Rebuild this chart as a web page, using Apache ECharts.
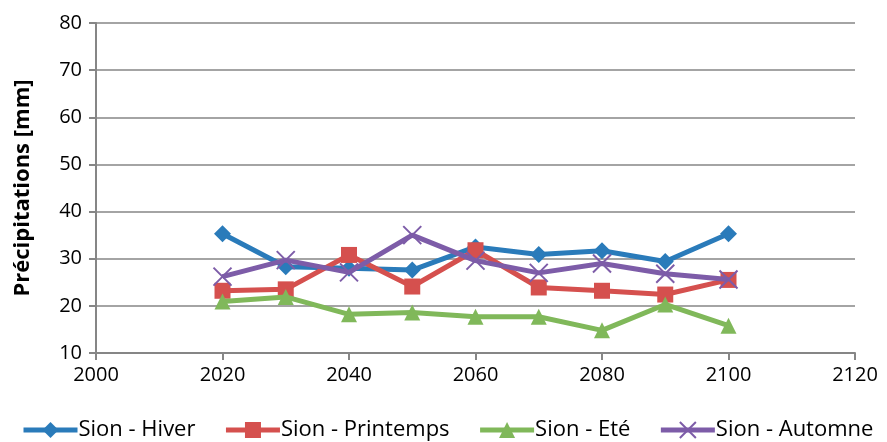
<!DOCTYPE html>
<html><head><meta charset="utf-8">
<script src="https://cdn.jsdelivr.net/npm/echarts@6/dist/echarts.min.js"></script>
<style>html,body{margin:0;padding:0;background:#fff}#c{width:887px;height:442px}</style>
</head><body><div id="c"></div>
<script>
const years = [2020, 2030, 2040, 2050, 2060, 2070, 2080, 2090, 2100];
const hiver = [35.3, 28.3, 28.0, 27.6, 32.5, 30.9, 31.7, 29.4, 35.3];
const printemps = [23.2, 23.5, 30.8, 24.1, 31.8, 23.9, 23.2, 22.4, 25.5];
const ete = [20.9, 21.9, 18.2, 18.6, 17.7, 17.7, 14.8, 20.3, 15.8];
const automne = [26.2, 29.7, 27.1, 35.0, 29.6, 27.0, 29.0, 26.8, 25.6];
const seriesNames = ['Sion - Hiver', 'Sion - Printemps', 'Sion - Eté', 'Sion - Automne'];
const colors = ['#2A7BBA', '#D5504E', '#80B85A', '#7D5CA8'];
const symbols = ['diamond', 'rect', 'triangle', 'path://M0,0 L10,10 M10,0 L0,10'];
const FONT = '"Open Sans", sans-serif';

const chart = echarts.init(document.getElementById('c'));
const allData = [hiver, printemps, ete, automne];
const series = allData.map((d, i) => ({
  name: seriesNames[i],
  type: 'line',
  data: years.map((y, k) => [y, d[k]]),
  symbol: symbols[i],
  symbolSize: i === 3 ? 18 : (i === 0 ? 17 : 16),
  lineStyle: { width: 5, color: colors[i] },
  itemStyle: i === 3 ? { color: 'none', borderColor: colors[i], borderWidth: 2 } : { color: colors[i], borderWidth: 0 },
  z: 2 + i
}));
chart.setOption({
  animation: false,
  color: colors,
  grid: { left: 96, right: 32, top: 23, bottom: 89, containLabel: false },
  xAxis: {
    type: 'value', min: 2000, max: 2120, interval: 20,
    axisLine: { show: true, lineStyle: { color: '#868686', width: 2 } },
    axisTick: { show: true, length: 7, lineStyle: { color: '#868686', width: 2 } },
    splitLine: { show: false },
    axisLabel: { color: '#000', fontSize: 20, fontFamily: FONT, margin: 12, formatter: v => String(v) }
  },
  yAxis: {
    type: 'value', min: 10, max: 80, interval: 10,
    name: 'Précipitations [mm]', nameLocation: 'middle', nameGap: 62,
    nameTextStyle: { color: '#000', fontSize: 22, fontWeight: 'bold', fontFamily: FONT },
    axisLine: { show: true, lineStyle: { color: '#868686', width: 2 } },
    axisTick: { show: true, length: 7, lineStyle: { color: '#868686', width: 2 } },
    splitLine: { show: true, lineStyle: { color: '#868686', width: 1.5 } },
    axisLabel: { color: '#000', fontSize: 20, fontFamily: FONT, margin: 14 }
  },
  legend: {
    bottom: 1, left: 21, width: 866, padding: 0, itemGap: 28, itemWidth: 54, itemHeight: 20,
    lineStyle: { width: 5 },
    textStyle: { color: '#000', fontSize: 22, fontFamily: FONT, padding: [0, 0, 0, -4] },
    data: seriesNames
  },
  series: series
});
</script></body></html>
